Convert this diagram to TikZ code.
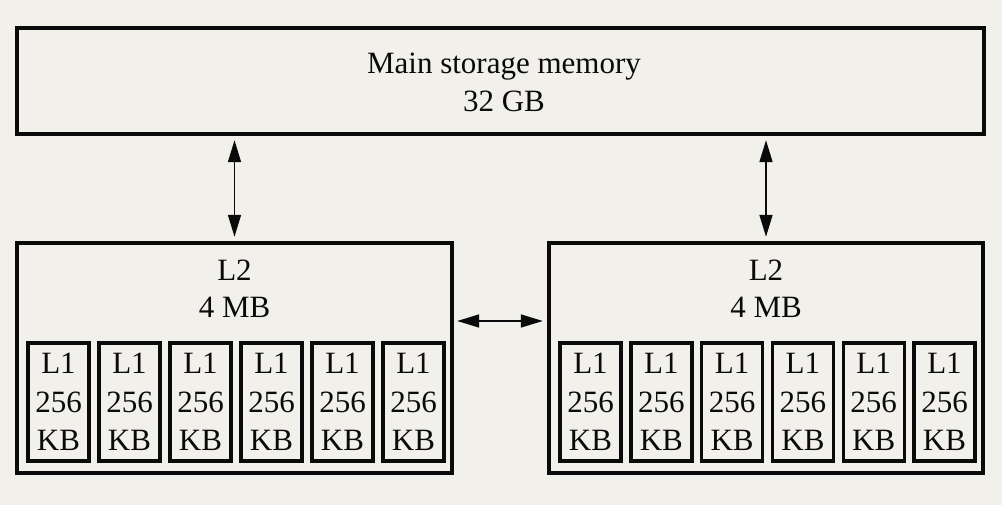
\documentclass[tikz,border=0pt]{standalone}
\usepackage{fontspec}
\setmainfont{Liberation Serif}
\usetikzlibrary{arrows.meta}
\definecolor{bgc}{RGB}{242,240,234}
\definecolor{ink}{RGB}{10,10,10}
\tikzset{
  box/.style={draw=ink, line width=3.4pt, rectangle, inner sep=0pt},
  lonebox/.style={box, minimum width=61pt, minimum height=118pt, align=center,
    font=\fontsize{31}{38.5}\selectfont, text=ink},
  txt/.style={anchor=base, inner sep=0pt, font=\fontsize{31}{38}\selectfont, text=ink},
  arr/.style={draw=ink, line width=1.6pt, {Triangle[length=22pt,width=13pt]}-{Triangle[length=22pt,width=13pt]}}
}
\begin{document}
\begin{tikzpicture}[x=1pt,y=-1pt]
\fill[bgc] (0,0) rectangle (1002,505);
\useasboundingbox (0,0) rectangle (1002,505);
% main memory
\node[box, minimum width=967pt, minimum height=106pt] (main) at (500.5,81) {};
\node[txt] (m1) at (504,74) {Main storage memory};
\node[txt] (m2) at (504,112) {32 GB};
% L2 boxes
\node[box, minimum width=435pt, minimum height=230pt] (l2a) at (234.5,358) {};
\node[box, minimum width=434pt, minimum height=230pt] (l2b) at (766,358) {};
\node[txt] (a1) at (234.5,280) {L2};
\node[txt] (a2) at (234.5,317) {4 MB};
\node[txt] (b1) at (766,280) {L2};
\node[txt] (b2) at (766,317) {4 MB};
% L1 boxes
\foreach \i in {0,...,5}{
  \node[lonebox] (la\i) at ({58.5+71*\i},402) {L1\\256\\KB};
  \node[lonebox] (lb\i) at ({590.5+70.8*\i},402) {L1\\256\\KB};
}
% connectors
\coordinate (h) at (500,321);
\draw[arr, shorten <=4.5pt, shorten >=4.5pt] (main.south -| l2a.north) -- (l2a.north);
\draw[arr, shorten <=4.5pt, shorten >=4.5pt] (main.south -| l2b.north) -- (l2b.north);
\draw[arr, shorten <=3.5pt, shorten >=4.5pt] (l2a.east |- h) -- (l2b.west |- h);
\end{tikzpicture}
\end{document}
